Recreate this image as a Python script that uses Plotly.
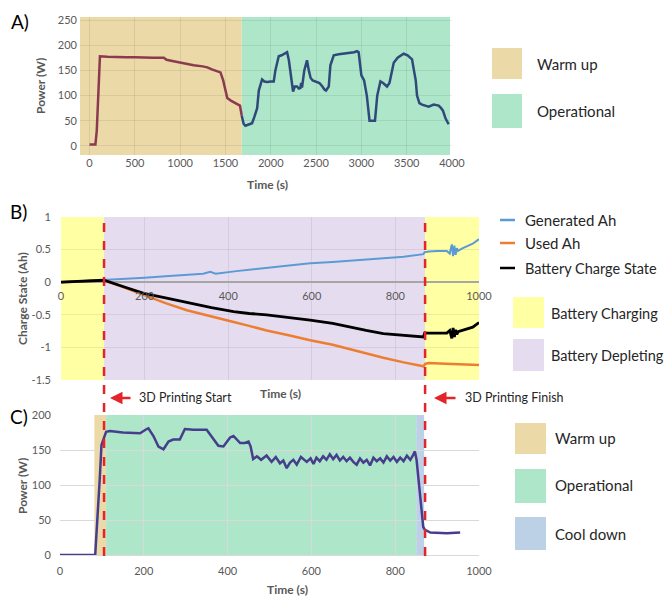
import plotly.graph_objects as go

W, H = 672, 599
OFF = 8  # page body margin offset in the browser
def X(px): return (px - OFF) / W
def Y(py): return 1 - (py - OFF) / H

# ---------------- Panel A data ----------------
A_warm_t = [0, 40, 65, 80, 115, 200, 300, 400, 500, 600, 700, 820, 850, 900, 1000, 1100, 1150, 1250, 1300, 1350, 1410, 1445, 1475, 1500, 1520, 1560, 1590, 1630, 1660, 1680]
A_warm_p = [3, 3, 3, 30, 178, 177, 176, 176, 176, 175, 175, 175, 171, 169, 165, 162, 160, 158, 156, 152, 148, 146, 130, 110, 95, 90, 87, 82, 80, 60]
A_op_t = [1680, 1700, 1720, 1760, 1794, 1820, 1850, 1868, 1904, 1930, 1960, 2000, 2033, 2051, 2088, 2120, 2143, 2180, 2200, 2217, 2246, 2265, 2290, 2310, 2327, 2335, 2345, 2370, 2390, 2400, 2420, 2440, 2463, 2500, 2537, 2570, 2592, 2610, 2640, 2658, 2695, 2750, 2805, 2850, 2879, 2920, 2952, 2970, 3000, 3030, 3060, 3090, 3120, 3150, 3175, 3210, 3240, 3283, 3310, 3335, 3357, 3400, 3467, 3510, 3559, 3580, 3600, 3614, 3640, 3669, 3700, 3743, 3798, 3853, 3880, 3900, 3928, 3963]
A_op_p = [60, 44, 40, 43, 45, 58, 75, 110, 132, 128, 127, 128, 128, 150, 178, 180, 182, 186, 170, 150, 108, 118, 118, 114, 115, 125, 116, 150, 165, 170, 150, 135, 130, 127, 125, 118, 112, 110, 118, 160, 180, 182, 183, 184, 185, 186, 188, 186, 140, 130, 100, 50, 50, 50, 100, 128, 125, 118, 125, 150, 165, 175, 183, 180, 172, 150, 130, 100, 85, 82, 80, 78, 82, 80, 75, 70, 55, 43]
A_warm_end = 1680
A_xmin, A_xmax = -105, 4000

# ---------------- Panel B data ----------------
B_start, B_finish = 103, 871
Gen_t = [0, 50, 103, 150, 200, 250, 300, 340, 357, 370, 420, 492, 550, 596, 650, 692, 730, 771, 820, 867, 870, 880, 900, 923, 930, 935, 938, 941, 944, 947, 950, 960, 971, 985, 1000]
Gen_v = [0, 0.015, 0.03, 0.05, 0.07, 0.09, 0.11, 0.13, 0.16, 0.13, 0.17, 0.22, 0.26, 0.29, 0.31, 0.33, 0.35, 0.36, 0.39, 0.43, 0.46, 0.47, 0.48, 0.48, 0.44, 0.58, 0.40, 0.56, 0.42, 0.52, 0.48, 0.52, 0.55, 0.59, 0.66]
Used_t = [0, 50, 103, 150, 198, 250, 301, 360, 413, 450, 492, 550, 596, 650, 692, 730, 771, 820, 867, 872, 880, 920, 960, 1000]
Used_v = [0, 0.015, 0.03, -0.08, -0.2, -0.32, -0.43, -0.53, -0.61, -0.67, -0.74, -0.82, -0.89, -0.96, -1.03, -1.09, -1.16, -1.23, -1.29, -1.25, -1.24, -1.25, -1.26, -1.27]
Batt_t = [0, 50, 103, 150, 198, 250, 301, 360, 413, 450, 492, 550, 596, 650, 692, 730, 771, 820, 867, 870, 880, 900, 923, 930, 935, 938, 941, 944, 947, 950, 971, 985, 1000]
Batt_v = [0, 0.015, 0.03, -0.07, -0.17, -0.24, -0.31, -0.39, -0.45, -0.48, -0.50, -0.54, -0.58, -0.63, -0.69, -0.74, -0.79, -0.82, -0.84, -0.78, -0.78, -0.77, -0.78, -0.74, -0.86, -0.70, -0.84, -0.73, -0.80, -0.76, -0.72, -0.69, -0.62]

# ---------------- Panel C data ----------------
C_warm = (82, 110)
C_oper = (110, 850)
C_cool = (850, 869)
C_t = [0, 84, 95, 99, 110, 119, 150, 175, 191, 207, 211, 223, 235, 247, 259, 270, 286, 298, 318, 350, 366, 378, 390, 406, 414, 430, 441, 450, 455, 461, 470, 480, 493, 505, 515, 525, 533, 541, 549, 557, 565, 575, 589, 598, 605, 612, 620, 628, 636, 644, 652, 660, 668, 676, 684, 692, 700, 708, 716, 724, 732, 740, 748, 756, 764, 772, 780, 788, 796, 804, 812, 820, 828, 836, 843, 847, 851, 861, 867, 871, 884, 923, 955]
C_p = [0, 0, 110, 157, 176, 177, 175, 175, 174, 180, 181, 170, 155, 151, 162, 165, 165, 180, 179, 179, 165, 156, 155, 168, 170, 160, 160, 162, 155, 137, 141, 136, 142, 133, 140, 131, 135, 124, 132, 136, 129, 140, 133, 138, 130, 139, 134, 141, 136, 144, 137, 143, 135, 140, 134, 139, 133, 129, 138, 132, 136, 128, 139, 134, 138, 132, 141, 135, 140, 133, 139, 134, 142, 136, 143, 148, 136, 79, 40, 36, 32, 31, 32]

C_TAN = "#EBD9A8"
C_GREEN = "#ADE6C8"
C_YELLOW = "#FFFFA3"
C_PURPLE = "#E6DCF0"
C_BLUEGRAY = "#BCD0E6"
FONT = "Lato"
TICKC = "#595959"

fig = go.Figure()

# Panel A traces
fig.add_trace(go.Scatter(x=A_warm_t, y=A_warm_p, mode="lines", line=dict(color="#8B3A50", width=2.5), xaxis="x", yaxis="y", showlegend=False))
fig.add_trace(go.Scatter(x=A_op_t, y=A_op_p, mode="lines", line=dict(color="#2F4A7A", width=2.5), xaxis="x", yaxis="y", showlegend=False))
# Panel B traces
fig.add_trace(go.Scatter(x=Gen_t, y=Gen_v, mode="lines", line=dict(color="#5B9BD5", width=2), xaxis="x2", yaxis="y2", showlegend=False))
fig.add_trace(go.Scatter(x=Used_t, y=Used_v, mode="lines", line=dict(color="#ED7D31", width=2.5), xaxis="x2", yaxis="y2", showlegend=False))
fig.add_trace(go.Scatter(x=Batt_t, y=Batt_v, mode="lines", line=dict(color="#000000", width=2.8), xaxis="x2", yaxis="y2", showlegend=False))
# Panel C trace
fig.add_trace(go.Scatter(x=C_t, y=C_p, mode="lines", line=dict(color="#463D8C", width=2.5), xaxis="x3", yaxis="y3", showlegend=False))

shapes = []
def band(xref, yref, x0, x1, color):
    shapes.append(dict(type="rect", xref=xref, yref=yref + " domain", x0=x0, x1=x1, y0=0, y1=1,
                       fillcolor=color, line=dict(width=0), layer="below"))

band("x", "y", A_xmin, A_warm_end, C_TAN)
band("x", "y", A_warm_end, 3978, C_GREEN)
band("x2", "y2", 0, B_start, C_YELLOW)
band("x2", "y2", B_start, B_finish, C_PURPLE)
band("x2", "y2", B_finish, 1000, C_YELLOW)
band("x3", "y3", C_warm[0], C_warm[1], C_TAN)
band("x3", "y3", C_oper[0], C_oper[1], C_GREEN)
band("x3", "y3", C_cool[0], C_cool[1], C_BLUEGRAY)

# dashed printing start/finish lines spanning B and C
for xv in (B_start, B_finish):
    shapes.append(dict(type="line", xref="x2", yref="paper", x0=xv, x1=xv, y0=Y(556), y1=Y(217),
                       line=dict(color="#E3242B", width=2.5, dash="dash"), layer="above"))

# legend swatches
def swatch(x0, x1, y0, y1, color):
    shapes.append(dict(type="rect", xref="paper", yref="paper", x0=X(x0), x1=X(x1), y0=Y(y1), y1=Y(y0),
                       fillcolor=color, line=dict(width=0)))
def lineswatch(x0, x1, y, color):
    shapes.append(dict(type="line", xref="paper", yref="paper", x0=X(x0), x1=X(x1), y0=Y(y), y1=Y(y),
                       line=dict(color=color, width=2.5)))

swatch(492, 522, 48, 79, C_TAN)
swatch(492, 522, 94, 128, C_GREEN)
lineswatch(500, 515, 220, "#5B9BD5")
lineswatch(500, 515, 243, "#ED7D31")
lineswatch(500, 515, 268, "#000000")
swatch(513, 544, 297, 328, C_YELLOW)
swatch(513, 544, 339, 371, C_PURPLE)
swatch(515, 546, 423, 454, C_TAN)
swatch(515, 546, 469, 503, C_GREEN)
swatch(515, 546, 517, 550, C_BLUEGRAY)

ann = []
def text(px, py, s, size=15, color="#262626", xanchor="left", bold=False, angle=0):
    ann.append(dict(x=X(px), y=Y(py), xref="paper", yref="paper", text=("<b>%s</b>" % s) if bold else s,
                    showarrow=False, xanchor=xanchor, yanchor="middle", textangle=angle,
                    font=dict(family=FONT, size=size, color=color)))

text(535, 64, "Warm up")
text(535, 111, "Operational")
text(523, 220, "Generated Ah")
text(523, 243, "Used Ah")
text(523, 268, "Battery Charge State", size=14.5)
text(549, 313, "Battery Charging", size=14.5)
text(549, 355, "Battery Depleting", size=14.5)
text(553, 438, "Warm up")
text(553, 485, "Operational")
text(553, 534, "Cool down")

text(9, 21, "A)", size=19, color="#000000")
text(8, 212, "B)", size=19, color="#000000")
text(8, 416, "C)", size=19, color="#000000")

text(40, 86, "Power (W)", size=12, color=TICKC, xanchor="center", bold=True, angle=-90)
text(267, 185, "Time (s)", size=12, color=TICKC, xanchor="center", bold=True)
text(22, 299, "Charge State (Ah)", size=12, color=TICKC, xanchor="center", bold=True, angle=-90)
text(280, 393, "Time (s)", size=12, color=TICKC, xanchor="center", bold=True)
text(22, 486, "Power (W)", size=12, color=TICKC, xanchor="center", bold=True, angle=-90)
text(287, 589, "Time (s)", size=12, color=TICKC, xanchor="center", bold=True)

text(137, 398, "3D Printing Start", size=12.5)
text(463, 398, "3D Printing Finish", size=12.5)
for tip, tail in ((110, 132), (434, 457)):
    ann.append(dict(x=X(tip), y=Y(398), xref="paper", yref="paper", ax=tail - tip, ay=0,
                    axref="pixel", ayref="pixel", text="", showarrow=True, arrowhead=2,
                    arrowsize=1, arrowwidth=2.5, arrowcolor="#E3242B"))

tickfont = dict(family=FONT, size=11, color=TICKC)
grid_faint = "rgba(0,0,0,0.07)"

fig.update_layout(
    width=W, height=H, margin=dict(l=0, r=0, t=0, b=0, autoexpand=False),
    paper_bgcolor="white", plot_bgcolor="rgba(0,0,0,0)",
    shapes=shapes, annotations=ann, showlegend=False,
    xaxis=dict(domain=[X(80), X(452)], range=[A_xmin, A_xmax], anchor="y", tickvals=list(range(0, 4001, 500)),
               showgrid=True, gridcolor=grid_faint, zeroline=False, showline=False, ticks="", tickfont=tickfont,
               automargin=False),
    yaxis=dict(domain=[Y(155), Y(17)], range=[-18, 256], anchor="x", tickvals=list(range(0, 251, 50)),
               showgrid=True, gridcolor=grid_faint, zeroline=False, showline=False, ticks="", tickfont=tickfont,
               automargin=False, ticklabelstandoff=2),
    xaxis2=dict(domain=[X(61), X(479)], range=[0, 1000], anchor="free",
                position=Y(281.5), tickvals=list(range(0, 1001, 200)),
                showgrid=True, gridcolor=grid_faint, zeroline=False, showline=False, ticks="", tickfont=tickfont,
                automargin=False, ticklabelstandoff=6),
    yaxis2=dict(domain=[Y(380), Y(217)], range=[-1.5, 1], anchor="x2", tickvals=[-1.5, -1, -0.5, 0, 0.5, 1],
                ticktext=["-1.5", "-1", "-0.5", "0", "0.5", "1"],
                showgrid=True, gridcolor=grid_faint, zeroline=True, zerolinecolor="#A6A6A6", zerolinewidth=2,
                showline=False, ticks="", tickfont=tickfont, automargin=False, ticklabelstandoff=9),
    xaxis3=dict(domain=[X(60), X(479)], range=[0, 1000], anchor="y3", tickvals=list(range(0, 1001, 200)),
                showgrid=True, gridcolor="#D9D9D9", zeroline=False, showline=True, linecolor="#D9D9D9",
                ticks="", tickfont=tickfont, automargin=False, ticklabelstandoff=6),
    yaxis3=dict(domain=[Y(555), Y(415)], range=[0, 200], anchor="x3", tickvals=list(range(0, 201, 50)),
                showgrid=True, gridcolor="#D9D9D9", zeroline=False, showline=False, ticks="", tickfont=tickfont,
                automargin=False, ticklabelstandoff=8),
)

fig.write_html("out.html")
